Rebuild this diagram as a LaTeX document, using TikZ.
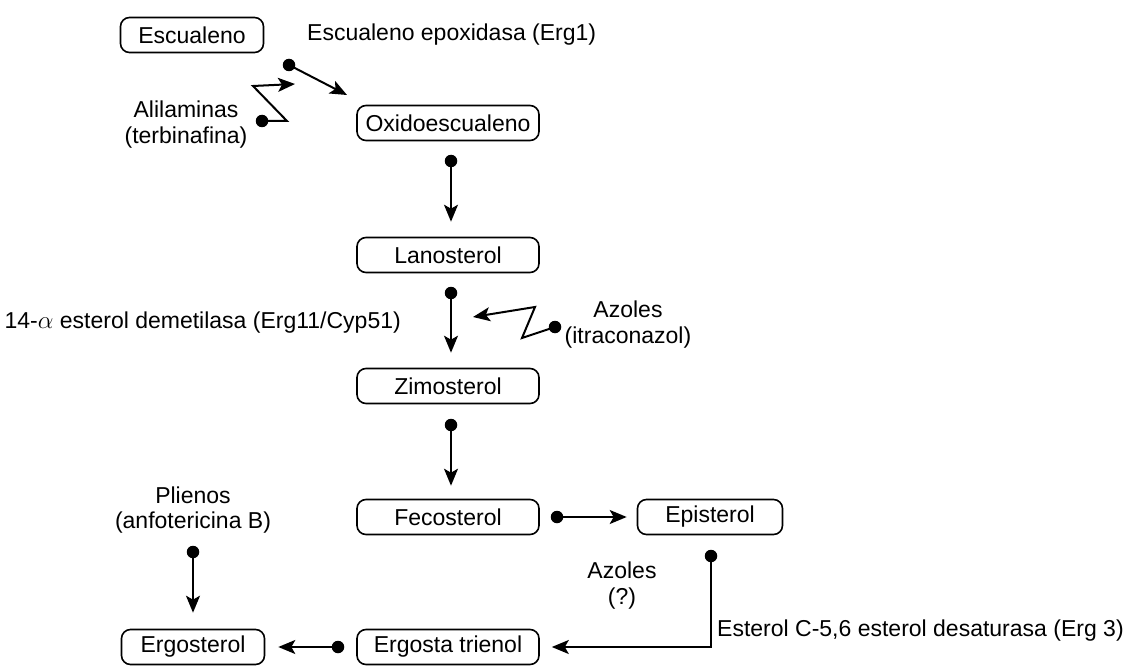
\documentclass[tikz,border=0pt]{standalone}
\usepackage{fontspec}
\setmainfont{Liberation Sans}
\usetikzlibrary{arrows.meta,calc}
\begin{document}
\begin{tikzpicture}[x=1pt,y=-1pt,
  font=\fontsize{23}{25.5}\selectfont,
  box/.style={draw,line width=1.6pt,rounded corners=9pt,minimum height=35pt,inner sep=0pt,fill=white},
  wide/.style={box,minimum width=182pt},
  narrow/.style={box,minimum width=143pt},
  dot/.style={circle,fill,inner sep=0pt,minimum size=12.5pt},
  arr/.style={line width=2pt,-{Stealth[length=17pt,width=14pt,inset=4pt]}},
  lbl/.style={inner sep=0pt,align=center}]
\useasboundingbox (0,0) rectangle (1127,666);

% sterol intermediates
\node[narrow] (esc) at (192,35) {Escualeno};
\node[wide] (oxi) at (448,123) {Oxidoescualeno};
\node[wide] (lan) at (448,255) {Lanosterol};
\node[wide] (zim) at (448,386) {Zimosterol};
\node[wide] (fec) at (448,517) {Fecosterol};
\node[box,minimum width=145pt] (epi) at (710,517) {Episterol};
\node[narrow] (ergo) at (193,647) {Ergosterol};
\node[wide] (tri) at (448,647) {Ergosta trienol};

% enzymes and inhibitors
\node[lbl,anchor=west] (epox) at (307,35) {Escualeno epoxidasa (Erg1)};
\node[lbl] (alil) at (186,124.5) {Alilaminas\\(terbinafina)};
\node[lbl,anchor=east] (demet) at (401,323) {14-$\alpha$ esterol demetilasa (Erg11/Cyp51)};
\node[lbl] (azi) at (628,324.5) {Azoles\\(itraconazol)};
\node[lbl] (plien) at (193,510) {Plienos\\(anfotericina B)};
\node[lbl] (azq) at (622,585.5) {Azoles\\(?)};
\node[lbl,anchor=west] (desat) at (717,631) {Esterol C-5,6 esterol desaturasa (Erg 3)};

% squalene -> oxidosqualene
\node[dot] (d1) at (289,65) {};
\coordinate (t1) at (347,95);
\draw[arr] (d1.center) -- (t1);

% allylamine inhibition
\node[dot] (da) at (262,121) {};
\coordinate (za1) at (287,121);
\coordinate (za2) at (253,86);
\coordinate (ta) at (295,84);
\draw[arr] (da.center) -- (za1) -- (za2) -- (ta);

% vertical steps
\node[dot] (d2) at (451,161) {};
\draw[arr,shorten >=15pt] (d2.center) -- (d2 |- lan.north);
\node[dot] (d3) at (451,293) {};
\draw[arr,shorten >=15pt] (d3.center) -- (d3 |- zim.north);
\node[dot] (d4) at (451,425) {};
\draw[arr,shorten >=13pt] (d4.center) -- (d4 |- fec.north);

% azole inhibition of Erg11
\node[dot] (dz) at (555,327) {};
\coordinate (zz1) at (522,338);
\coordinate (zz2) at (535,307);
\coordinate (tz) at (473,317);
\draw[arr] (dz.center) -- (zz1) -- (zz2) -- (tz);

% fecosterol -> episterol
\node[dot] (d5) at (557,517) {};
\draw[arr,shorten >=10pt] (d5.center) -- (epi.west);

% episterol -> ergosta trienol
\node[dot] (d6) at (711,556) {};
\draw[arr,shorten >=12pt] (d6.center) |- (tri.east);

% ergosta trienol -> ergosterol
\node[dot] (d7) at (338,647) {};
\draw[arr,shorten >=13pt] (d7.center) -- (ergo.east);

% polyene binding
\node[dot] (d8) at (193,552) {};
\draw[arr,shorten >=16pt] (d8.center) -- (ergo.north);
\end{tikzpicture}
\end{document}
